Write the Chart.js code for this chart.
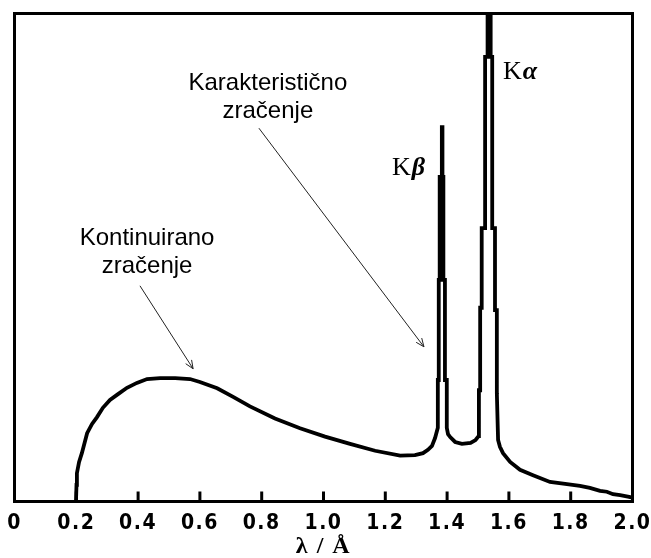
<!DOCTYPE html>
<html lang="hr">
<head>
    <meta charset="utf-8"/>
    <script src="https://cdn.jsdelivr.net/npm/chart.js@4.4.0/dist/chart.umd.min.js"></script>
    <style>
        html, body { margin: 0; padding: 0; background: #fff; }
        canvas { display: block; }
    </style>
</head>
<body>
    <canvas id="spectrum" width="651" height="558"></canvas>
    <script>
        // wavelength (Å) and relative intensity
        const continuumX = [0.199, 0.2006, 0.202, 0.209, 0.218, 0.235, 0.251, 0.267, 0.286, 0.309, 0.335, 0.364, 0.396, 0.429, 0.471, 0.520, 0.568, 0.600, 0.656, 0.709, 0.762, 0.843, 0.924, 1.005, 1.086, 1.167, 1.248, 1.296, 1.322, 1.338, 1.351, 1.361];
        const continuumY = [0, 3.4, 5.8, 8.1, 9.9, 14.0, 15.9, 17.3, 19.2, 20.8, 22.0, 23.3, 24.3, 25.1, 25.3, 25.3, 25.1, 24.5, 23.2, 21.4, 19.5, 17.0, 15.0, 13.3, 11.8, 10.4, 9.4, 9.5, 9.9, 10.6, 11.4, 13.0];

        const kBetaX = [1.370, 1.370, 1.373, 1.373, 1.376, 1.376, 1.383, 1.383, 1.385, 1.385, 1.388, 1.388, 1.393, 1.393, 1.399, 1.399];
        const kBetaY = [15.1, 24.9, 24.9, 45.4, 45.4, 66.5, 66.5, 76.7, 76.7, 66.5, 66.5, 45.4, 45.4, 24.9, 24.9, 15.1];

        const valleyX = [1.403, 1.410, 1.426, 1.448, 1.476, 1.492, 1.502, 1.503];
        const valleyY = [13.8, 13.2, 12.2, 11.8, 12.0, 12.6, 13.4, 14.7];

        const kAlphaX = [1.503, 1.507, 1.507, 1.512, 1.512, 1.523, 1.523, 1.531, 1.531, 1.541, 1.541, 1.546, 1.546, 1.555, 1.555, 1.561, 1.561, 1.565];
        const kAlphaY = [22.8, 22.8, 39.7, 39.7, 56.0, 56.0, 91.1, 91.1, 109, 109, 91.1, 91.1, 56.0, 56.0, 39.2, 39.2, 22.2, 12.6];

        const tailX = [1.571, 1.581, 1.604, 1.636, 1.678, 1.733, 1.782, 1.830, 1.862, 1.895, 1.917, 1.937, 1.960, 1.985, 2.0];
        const tailY = [11.2, 9.9, 8.1, 6.5, 5.4, 4.0, 3.6, 3.2, 2.8, 2.2, 2.0, 1.5, 1.3, 1.0, 0.8];

        const xTickValues = [0, 0.2, 0.4, 0.6, 0.8, 1.0, 1.2, 1.4, 1.6, 1.8, 2.0];
        const xTickLabels = ["0", "0.2", "0.4", "0.6", "0.8", "1.0", "1.2", "1.4", "1.6", "1.8", "2.0"];
        const innerTicks = [0.2, 0.4, 0.6, 0.8, 1.0, 1.2, 1.4, 1.6, 1.8];

        const xTitle = "λ / Å";

        function toPoints(xs, ys) {
            return xs.map(function(x, i) { return {x: x, y: ys[i]}; });
        }

        var spectrum = [].concat(
            toPoints(continuumX, continuumY),
            toPoints(kBetaX, kBetaY),
            toPoints(valleyX, valleyY),
            toPoints(kAlphaX, kAlphaY),
            toPoints(tailX, tailY)
        );

        // spaced-out axis lettering, as in the scanned figure
        const spacingPlugin = {
            id: "spacing",
            beforeDraw(chart) { chart.ctx.letterSpacing = "1.5px"; },
            beforeDatasetsDraw(chart) { chart.ctx.letterSpacing = "0px"; }
        };

        // frame round the plot and the inward tick marks
        const framePlugin = {
            id: "frame",
            afterDatasetsDraw(chart) {
                const ctx = chart.ctx;
                const a = chart.chartArea;
                const xs = chart.scales.x;
                ctx.save();
                ctx.strokeStyle = "#000";
                ctx.lineWidth = 3;
                innerTicks.forEach(function(v) {
                    var px = xs.getPixelForValue(v);
                    ctx.beginPath();
                    ctx.moveTo(px, a.bottom);
                    ctx.lineTo(px, a.bottom - 10);
                    ctx.stroke();
                });
                ctx.strokeRect(a.left, a.top, a.right - a.left, a.bottom - a.top);
                ctx.restore();
            }
        };

        function arrow(ctx, x1, y1, x2, y2) {
            var ang = Math.atan2(y2 - y1, x2 - x1);
            var len = 9, spread = 0.4;
            ctx.beginPath();
            ctx.moveTo(x1, y1);
            ctx.lineTo(x2, y2);
            ctx.moveTo(x2 - len * Math.cos(ang - spread), y2 - len * Math.sin(ang - spread));
            ctx.lineTo(x2, y2);
            ctx.lineTo(x2 - len * Math.cos(ang + spread), y2 - len * Math.sin(ang + spread));
            ctx.stroke();
        }

        // labels and arrows, placed in data units
        const notesPlugin = {
            id: "notes",
            afterDraw(chart) {
                const ctx = chart.ctx;
                const xs = chart.scales.x, ys = chart.scales.y;
                const X = function(v) { return xs.getPixelForValue(v); };
                const Y = function(v) { return ys.getPixelForValue(v); };
                ctx.save();
                ctx.letterSpacing = "0px";
                ctx.fillStyle = "#000";
                ctx.textAlign = "center";
                ctx.textBaseline = "alphabetic";
                ctx.font = "24px 'Liberation Sans', Arial, sans-serif";
                ctx.fillText("Kontinuirano", X(0.429), Y(52.6));
                ctx.fillText("zračenje", X(0.429), Y(46.8));
                ctx.fillText("Karakteristično", X(0.820), Y(84.3));
                ctx.fillText("zračenje", X(0.820), Y(78.6));

                ctx.strokeStyle = "#222";
                ctx.lineWidth = 1;
                arrow(ctx, X(0.406), Y(44.2), X(0.578), Y(27.2));
                arrow(ctx, X(0.791), Y(76.5), X(1.325), Y(31.7));

                ctx.textAlign = "left";
                var kFont = "26px 'Liberation Serif', 'Times New Roman', serif";
                var gFont = "italic bold 26px 'Liberation Serif', 'Times New Roman', serif";
                [[1.222, 66.9, "β"], [1.581, 86.6, "α"]].forEach(function(l) {
                    ctx.font = kFont;
                    var x0 = X(l[0]);
                    ctx.fillText("K", x0, Y(l[1]));
                    var w = ctx.measureText("K").width;
                    ctx.font = gFont;
                    ctx.fillText(l[2], x0 + w + 1, Y(l[1]));
                });
                ctx.restore();
            }
        };

        new Chart(document.getElementById("spectrum"), {
            type: "line",
            data: {
                datasets: [{
                    data: spectrum,
                    borderColor: "#000",
                    borderWidth: 3.8,
                    pointRadius: 0,
                    tension: 0,
                    fill: false
                }]
            },
            options: {
                responsive: false,
                animation: false,
                events: [],
                layout: { padding: { left: 14.5, top: 13.5, right: 18.5, bottom: 0 } },
                plugins: { legend: { display: false }, tooltip: { enabled: false } },
                scales: {
                    x: {
                        type: "linear",
                        min: 0,
                        max: 2,
                        grid: { display: false, drawTicks: false },
                        border: { display: false },
                        afterBuildTicks: function(scale) {
                            scale.ticks = xTickValues.map(function(v) { return {value: v}; });
                        },
                        afterFit: function(scale) {
                            scale.height = 56.5;
                            scale.paddingLeft = 0;
                            scale.paddingRight = 0;
                        },
                        ticks: {
                            color: "#000",
                            padding: 9,
                            maxRotation: 0,
                            autoSkip: false,
                            font: { family: "'Liberation Sans Narrow', 'DejaVu Sans Condensed', 'DejaVu Sans', sans-serif", size: 21, weight: "bold" },
                            callback: function(v, i) { return xTickLabels[i]; }
                        },
                        title: {
                            display: true,
                            text: xTitle,
                            color: "#000",
                            padding: { top: 0, bottom: -1 },
                            font: { family: "'Liberation Serif', 'Times New Roman', serif", size: 24, weight: "bold", lineHeight: 1 }
                        }
                    },
                    y: {
                        display: false,
                        min: 0,
                        max: 100
                    }
                }
            },
            plugins: [spacingPlugin, framePlugin, notesPlugin]
        });
    </script>
</body>
</html>
